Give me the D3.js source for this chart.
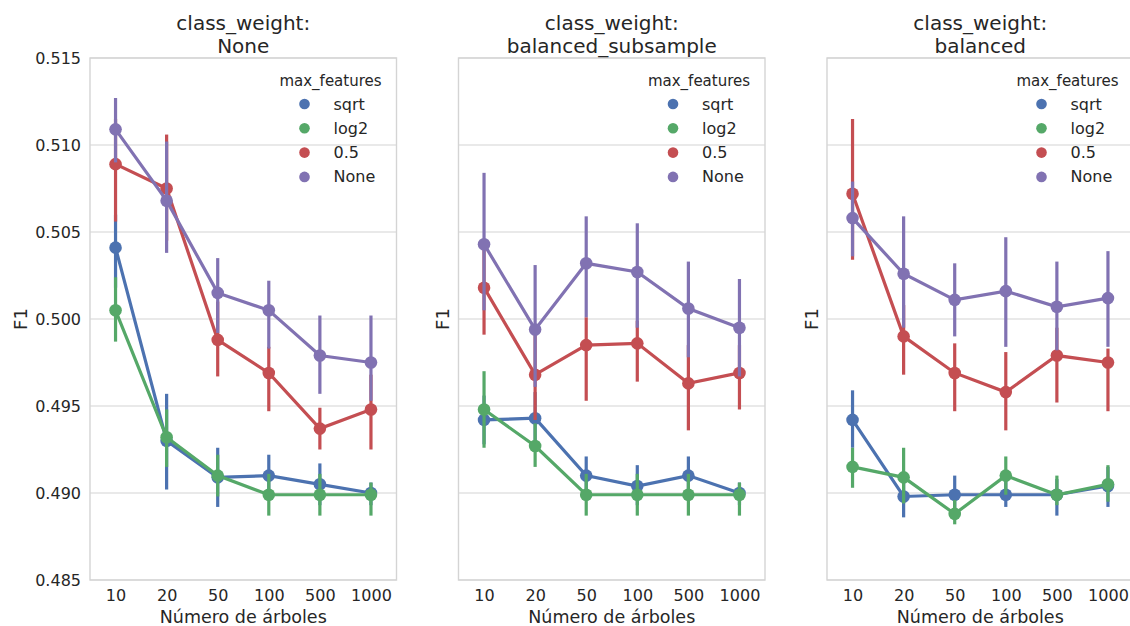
<!DOCTYPE html>
<html>
<head>
<meta charset="utf-8">
<script src="https://cdn.jsdelivr.net/npm/d3@7"></script>
<style>
  body { margin: 0; background: #fff; }
  text { font-family: "DejaVu Sans", sans-serif; fill: #262626; }
</style>
</head>
<body>
<script>
// categorías y series
const nTrees = ["10", "20", "50", "100", "500", "1000"];
const features = ["sqrt", "log2", "0.5", "None"];
const classWeights = ["None", "balanced_subsample", "balanced"];
const yTicks = [0.485, 0.490, 0.495, 0.500, 0.505, 0.510, 0.515];
const colors = ["#4C72B0", "#55A868", "#C44E52", "#8172B2"];

// class_weight = None  (filas: sqrt, log2, 0.5, None)
const meanNone = [
  [0.5041, 0.4930, 0.4909, 0.4910, 0.4905, 0.4900],
  [0.5005, 0.4932, 0.4910, 0.4899, 0.4899, 0.4899],
  [0.5089, 0.5075, 0.4988, 0.4969, 0.4937, 0.4948],
  [0.5109, 0.5068, 0.5015, 0.5005, 0.4979, 0.4975]
];
const loNone = [
  [0.5018, 0.4902, 0.4892, 0.4898, 0.4893, 0.4893],
  [0.4987, 0.4915, 0.4898, 0.4887, 0.4887, 0.4887],
  [0.5056, 0.5045, 0.4967, 0.4947, 0.4925, 0.4925],
  [0.5090, 0.5038, 0.4992, 0.4983, 0.4957, 0.4953]
];
const hiNone = [
  [0.5060, 0.4957, 0.4926, 0.4922, 0.4917, 0.4906],
  [0.5024, 0.4948, 0.4922, 0.4911, 0.4911, 0.4906],
  [0.5115, 0.5106, 0.5010, 0.4984, 0.4949, 0.4968],
  [0.5127, 0.5102, 0.5035, 0.5022, 0.5002, 0.5002]
];

// class_weight = balanced_subsample
const meanSub = [
  [0.4942, 0.4943, 0.4910, 0.4904, 0.4910, 0.4900],
  [0.4948, 0.4927, 0.4899, 0.4899, 0.4899, 0.4899],
  [0.5018, 0.4968, 0.4985, 0.4986, 0.4963, 0.4969],
  [0.5043, 0.4994, 0.5032, 0.5027, 0.5006, 0.4995]
];
const loSub = [
  [0.4928, 0.4928, 0.4898, 0.4893, 0.4898, 0.4893],
  [0.4926, 0.4915, 0.4887, 0.4887, 0.4887, 0.4887],
  [0.4991, 0.4942, 0.4953, 0.4964, 0.4936, 0.4948],
  [0.5005, 0.4961, 0.5001, 0.4995, 0.4978, 0.4967]
];
const hiSub = [
  [0.4956, 0.4958, 0.4921, 0.4916, 0.4921, 0.4906],
  [0.4970, 0.4940, 0.4911, 0.4911, 0.4911, 0.4906],
  [0.5045, 0.4995, 0.5001, 0.4999, 0.4985, 0.4985],
  [0.5084, 0.5031, 0.5059, 0.5055, 0.5033, 0.5023]
];

// class_weight = balanced
const meanBal = [
  [0.4942, 0.4898, 0.4899, 0.4899, 0.4899, 0.4904],
  [0.4915, 0.4909, 0.4888, 0.4910, 0.4899, 0.4905],
  [0.5072, 0.4990, 0.4969, 0.4958, 0.4979, 0.4975],
  [0.5058, 0.5026, 0.5011, 0.5016, 0.5007, 0.5012]
];
const loBal = [
  [0.4926, 0.4886, 0.4890, 0.4892, 0.4887, 0.4892],
  [0.4903, 0.4894, 0.4882, 0.4899, 0.4893, 0.4895],
  [0.5034, 0.4968, 0.4947, 0.4936, 0.4952, 0.4947],
  [0.5036, 0.4995, 0.4990, 0.4984, 0.4982, 0.4984]
];
const hiBal = [
  [0.4959, 0.4910, 0.4910, 0.4908, 0.4908, 0.4915],
  [0.4926, 0.4926, 0.4896, 0.4921, 0.4910, 0.4916],
  [0.5115, 0.5008, 0.4986, 0.4981, 0.4995, 0.4983],
  [0.5079, 0.5059, 0.5032, 0.5047, 0.5033, 0.5039]
];

const panels = [
  { cw: classWeights[0], mean: meanNone, lo: loNone, hi: hiNone },
  { cw: classWeights[1], mean: meanSub, lo: loSub, hi: hiSub },
  { cw: classWeights[2], mean: meanBal, lo: loBal, hi: hiBal }
];

const width = 1130, height = 626;
const plotTop = 58, plotBottom = 580;
const panelW = 306.5, panelStep = 368.5, firstLeft = 90;

const svg = d3.select("body").append("svg")
  .attr("width", width)
  .attr("height", height);

const y = d3.scaleLinear().domain([0.485, 0.515]).range([plotBottom, plotTop]);

panels.forEach((p, i) => {
  const left = firstLeft + i * panelStep;
  const x = d3.scalePoint().domain(nTrees).range([left, left + panelW]).padding(0.5);
  const g = svg.append("g");

  // rejilla horizontal
  g.selectAll(".grid")
    .data(yTicks)
    .join("line")
    .attr("x1", left).attr("x2", left + panelW)
    .attr("y1", d => y(d)).attr("y2", d => y(d))
    .attr("stroke", "#d4d4d4")
    .attr("stroke-width", 1.2);

  // marco
  g.append("rect")
    .attr("x", left).attr("y", plotTop)
    .attr("width", panelW).attr("height", plotBottom - plotTop)
    .attr("fill", "none")
    .attr("stroke", "#d4d4d4")
    .attr("stroke-width", 1.4);

  // eje x
  const xAxis = g.append("g")
    .attr("transform", `translate(0,${plotBottom})`)
    .call(d3.axisBottom(x).tickSize(0).tickPadding(9.5));
  xAxis.select(".domain").remove();
  xAxis.selectAll("text").attr("font-size", 16).attr("fill", "#262626")
    .attr("font-family", "DejaVu Sans");

  // eje y (solo el primer panel con etiquetas)
  if (i === 0) {
    const yAxis = g.append("g")
      .attr("transform", `translate(${left},0)`)
      .call(d3.axisLeft(y).tickValues(yTicks).tickFormat(d3.format(".3f")).tickSize(0).tickPadding(9));
    yAxis.select(".domain").remove();
    yAxis.selectAll("text").attr("font-size", 16).attr("fill", "#262626")
      .attr("font-family", "DejaVu Sans");
  }

  // etiqueta F1
  const f1x = i === 0 ? left - 70 : left - 16;
  g.append("text")
    .attr("transform", `translate(${f1x},${(plotTop + plotBottom) / 2}) rotate(-90)`)
    .attr("text-anchor", "middle")
    .attr("dominant-baseline", "central")
    .attr("font-size", 18)
    .text("F1");

  // etiqueta x
  g.append("text")
    .attr("x", left + panelW / 2)
    .attr("y", 622.5)
    .attr("text-anchor", "middle")
    .attr("font-size", 17.5)
    .text("Número de árboles");

  // título
  const title = g.append("text")
    .attr("x", left + panelW / 2)
    .attr("text-anchor", "middle")
    .attr("font-size", 20);
  title.append("tspan").attr("x", left + panelW / 2).attr("y", 30).text("class_weight:");
  title.append("tspan").attr("x", left + panelW / 2).attr("y", 53).text(p.cw);

  // series
  features.forEach((f, k) => {
    const pts = nTrees.map((n, j) => ({ n, m: p.mean[k][j], lo: p.lo[k][j], hi: p.hi[k][j] }));
    const line = d3.line().x(d => x(d.n)).y(d => y(d.m));

    g.append("path")
      .datum(pts)
      .attr("d", line)
      .attr("fill", "none")
      .attr("stroke", colors[k])
      .attr("stroke-width", 3.2);

    g.selectAll(".ci" + k)
      .data(pts)
      .join("line")
      .attr("x1", d => x(d.n)).attr("x2", d => x(d.n))
      .attr("y1", d => y(d.lo)).attr("y2", d => y(d.hi))
      .attr("stroke", colors[k])
      .attr("stroke-width", 3.2);

    g.selectAll(".pt" + k)
      .data(pts)
      .join("circle")
      .attr("cx", d => x(d.n)).attr("cy", d => y(d.m))
      .attr("r", 6.3)
      .attr("fill", colors[k]);
  });

  // leyenda
  const lx = left + panelW - 92;
  const leg = g.append("g");
  leg.append("text")
    .attr("x", left + panelW - 66)
    .attr("y", 86)
    .attr("text-anchor", "middle")
    .attr("font-size", 15)
    .text("max_features");
  features.forEach((f, k) => {
    const ly = 104 + k * 24.3;
    leg.append("circle")
      .attr("cx", lx).attr("cy", ly).attr("r", 5.3)
      .attr("fill", colors[k]);
    leg.append("text")
      .attr("x", lx + 29).attr("y", ly)
      .attr("dominant-baseline", "central")
      .attr("font-size", 16)
      .text(f);
  });
});
</script>
</body>
</html>
